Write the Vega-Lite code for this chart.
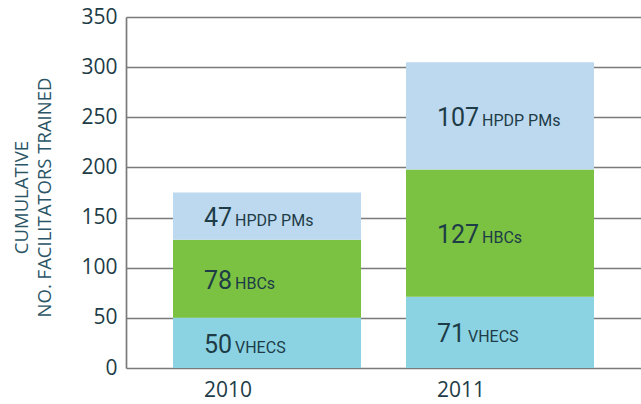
{
  "$schema": "https://vega.github.io/schema/vega-lite/v6.json",
  "width": 515,
  "height": 351,
  "autosize": "none",
  "padding": {"left": 126, "top": 17, "right": 0, "bottom": 36},
  "background": "white",
  "config": {"view": {"stroke": null}},
  "data": {"values": [
    {"year": "2010", "group": "VHECS", "k": 1, "value": 50},
    {"year": "2010", "group": "HBCs", "k": 2, "value": 78},
    {"year": "2010", "group": "HPDP PMs", "k": 3, "value": 47},
    {"year": "2011", "group": "VHECS", "k": 1, "value": 71},
    {"year": "2011", "group": "HBCs", "k": 2, "value": 127},
    {"year": "2011", "group": "HPDP PMs", "k": 3, "value": 107}
  ]},
  "transform": [
    {"stack": "value", "groupby": ["year"], "sort": [{"field": "k"}], "as": ["v0", "v1"]},
    {"calculate": "(datum.v0 + datum.v1) / 2", "as": "mid"},
    {"calculate": "length(toString(datum.value))", "as": "nd"}
  ],
  "encoding": {
    "x": {
      "field": "year", "type": "nominal",
      "scale": {"paddingInner": 0.193, "paddingOuter": 0.2017},
      "axis": {"title": null, "domain": false, "ticks": false, "labelAngle": 0, "labelPadding": 11,
               "labelAlign": "left", "labelOffset": -63,
               "labelFont": "Open Sans", "labelFontSize": 21, "labelColor": "#1d3c47"}
    }
  },
  "layer": [
    {
      "mark": {"type": "bar"},
      "encoding": {
        "y": {
          "field": "v0", "type": "quantitative",
          "scale": {"domain": [0, 350], "nice": false},
          "axis": {
            "values": [0, 50, 100, 150, 200, 250, 300, 350],
            "ticks": false, "domainColor": "#7a7a7a", "domainWidth": 1.7,
            "gridColor": "#7a7a7a", "gridWidth": 1.7, "gridOpacity": 1,
            "labelPadding": 9, "labelFont": "Open Sans", "labelFontSize": 21, "labelColor": "#1d3c47",
            "title": ["CUMULATIVE", "NO. FACILITATORS TRAINED"],
            "titleFont": "Open Sans", "titleFontSize": 18.5, "titleFontWeight": "normal",
            "titleColor": "#2b5566", "titleLineHeight": 23,
            "titleAngle": -90, "titleBaseline": "top", "titleAlign": "center",
            "titleX": -114, "titleY": 180
          }
        },
        "y2": {"field": "v1"},
        "color": {
          "field": "group", "type": "nominal",
          "scale": {"domain": ["VHECS", "HBCs", "HPDP PMs"], "range": ["#8BD3E3", "#7BC142", "#BDD9F0"]},
          "legend": null
        }
      }
    },
    {
      "mark": {"type": "text", "align": "left", "baseline": "alphabetic", "dy": 10,
               "font": "Roboto", "fontSize": 25, "color": "#1d3c47"},
      "encoding": {
        "x": {"field": "year", "type": "nominal", "bandPosition": 0.165},
        "y": {"field": "mid", "type": "quantitative"},
        "text": {"field": "value", "type": "quantitative"}
      }
    },
    {
      "transform": [{"filter": "datum.nd == 2"}],
      "mark": {"type": "text", "align": "left", "baseline": "alphabetic", "dy": 10, "dx": 31,
               "font": "Roboto", "fontSize": 16, "color": "#1d3c47"},
      "encoding": {
        "x": {"field": "year", "type": "nominal", "bandPosition": 0.165},
        "y": {"field": "mid", "type": "quantitative"},
        "text": {"field": "group", "type": "nominal"}
      }
    },
    {
      "transform": [{"filter": "datum.nd == 3"}],
      "mark": {"type": "text", "align": "left", "baseline": "alphabetic", "dy": 10, "dx": 45,
               "font": "Roboto", "fontSize": 16, "color": "#1d3c47"},
      "encoding": {
        "x": {"field": "year", "type": "nominal", "bandPosition": 0.165},
        "y": {"field": "mid", "type": "quantitative"},
        "text": {"field": "group", "type": "nominal"}
      }
    }
  ]
}
